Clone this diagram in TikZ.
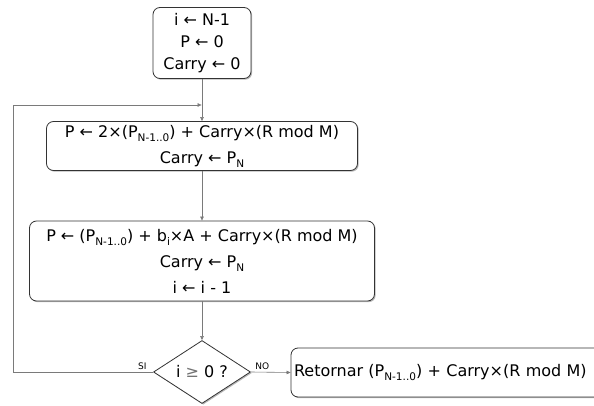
\documentclass[tikz,border=0pt]{standalone}
\usepackage{fontspec}
\setmainfont{DejaVu Sans}
\usetikzlibrary{shapes.geometric,shadows,arrows.meta}
\newcommand{\lowidx}[1]{\raisebox{-0.45ex}{\fontsize{10.5}{10.5}\selectfont #1}}
\definecolor{edge}{HTML}{333333}
\definecolor{wire}{HTML}{7A7A7A}
\tikzset{
  every node/.style={font=\fontsize{16}{22}\selectfont, text=black},
  procbox/.style={draw=edge, line width=0.8pt, rounded corners=7pt, fill=white, align=center,
    inner sep=0pt, drop shadow={shadow xshift=1.2pt, shadow yshift=-1.2pt, fill=black!35, opacity=0.8}},
  testbox/.style={draw=edge, line width=0.8pt, diamond, aspect=1.55, fill=white, inner sep=0pt,
    drop shadow={shadow xshift=1.2pt, shadow yshift=-1.2pt, fill=black!35, opacity=0.8}},
  flow/.style={draw=wire, line width=0.6pt, -{Stealth[length=4pt,width=3.5pt,inset=0pt]}},
  tag/.style={font=\fontsize{9}{10}\selectfont},
}
\begin{document}
\begin{tikzpicture}[x=1pt,y=-1pt]
\useasboundingbox (0,0) rectangle (594,406);
\begin{scope}
\clip (0,0) rectangle (594,406);

% initialisation
\node[procbox, minimum width=98pt, minimum height=71pt] (init) at (202,43)
  {i ← N-1\\P ← 0\\Carry ← 0};

% doubling step
\node[procbox, minimum width=311pt, minimum height=49pt,
      font=\fontsize{16}{26}\selectfont] (dbl) at (202,146)
  {P ← 2×(P\lowidx{N-1..0}) + Carry×(R mod M)\\Carry ← P\lowidx{N}};

% accumulation step
\node[procbox, minimum width=345pt, minimum height=80pt,
      font=\fontsize{16}{26}\selectfont] (acc) at (202,261)
  {P ← (P\lowidx{N-1..0}) + b\lowidx{i}×A + Carry×(R mod M)\\Carry ← P\lowidx{N}\\i ← i - 1};

% loop test
\node[testbox, minimum width=97pt, minimum height=63pt] (test) at (202,372)
  {i {\color{black!55}≥} 0 ?};

% result
\node[procbox, minimum width=320pt, minimum height=49pt, text width=314pt, align=left] (res) at (451,372.5)
  {Retornar (P\lowidx{N-1..0}) + Carry×(R mod M)};

\coordinate (join) at (202,105);
\coordinate (back) at (13,372);

\draw[draw=wire, line width=0.6pt] (init) -- (join);
\draw[flow] (join) -- (dbl);
\draw[flow] (dbl) -- (acc);
\draw[flow] (acc) -- (test);
\draw[flow] (test.west) -- (back) |- ([xshift=-0.4pt]join);
\draw[flow] (test.east) -- (res.west);

\node[tag, anchor=south east] at ([xshift=-3pt,yshift=-1pt]test.west) {SI};
\node[tag, anchor=south west] at ([xshift=1pt,yshift=-1pt]test.east) {NO};
\end{scope}
\end{tikzpicture}
\end{document}
